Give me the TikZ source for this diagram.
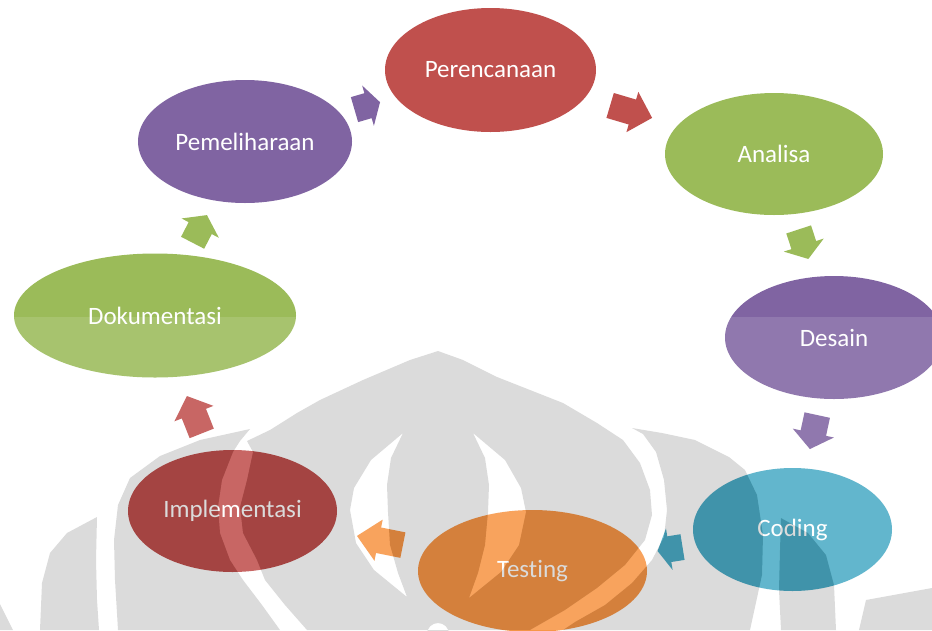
\documentclass[tikz,border=0pt]{standalone}
\usepackage{fontspec}
\setmainfont{Carlito}[Ligatures=NoCommon]
\usetikzlibrary{calc,shapes.geometric}

\definecolor{phRed}{HTML}{C0504D}
\definecolor{phPurple}{HTML}{8064A2}
\definecolor{phGreen}{HTML}{9BBB59}
\definecolor{phAqua}{HTML}{4BACC6}
\definecolor{phOrange}{HTML}{F79646}

\tikzset{
  phase/.style={ellipse, draw=none, inner sep=0pt, outer sep=0pt, text=white,
    font=\fontsize{25}{30}\selectfont},
  % pieces of the faint emblem behind the lower half
  makara/.style={insert path={
    % left outer leaf
    (97,517) -- (96,560) -- (97,600) -- (99,630) -- (40,630) -- (42,583) -- (50,553) -- (67,533) -- cycle
    % left leaf
    (250,429) -- (240,441) -- (233,452) -- (222,480) -- (218,507) -- (220,533) -- (230,560) -- (243,580)
      -- (262,605) -- (280,630) -- (118,630) -- (115,580) -- (114,540) -- (118,505) -- (130,478)
      -- (160,456) -- (200,440) -- cycle
    % central dome
    (438,351) -- (463,360) -- (497,377) -- (530,390) -- (563,403) -- (597,423) -- (623,440) -- (640,463)
      -- (650,490) -- (652,515) -- (645,540) -- (625,565) -- (597,588) -- (565,610) -- (530,630)
      -- (307,630) -- (285,605) -- (265,580) -- (257,560) -- (243,533) -- (240,507) -- (247,480)
      -- (253,452) -- (247,441) -- (270,430) -- (297,413) -- (320,400) -- (363,380) -- (410,360) -- cycle
    % openings inside the dome
    (403,433) -- (371,460) -- (354,488) -- (350,510) -- (356,543) -- (374,570) -- (407,597)
      -- (398,573) -- (390,545) -- (388,512) -- (387,485) -- (391,458) -- cycle
    (473,433) -- (505,460) -- (521,488) -- (526,512) -- (519,545) -- (501,572) -- (469,598)
      -- (478,573) -- (485,545) -- (488,512) -- (489,485) -- (485,458) -- cycle
    (438,634) circle[radius=11pt]
    % right leaf
    (632,428) -- (662,433) -- (695,440) -- (729,457) -- (745,470) -- (757,495) -- (763,535)
      -- (762,575) -- (750,630) -- (563,630) -- (575,622) -- (605,605) -- (632,583) -- (652,560)
      -- (664,537) -- (667,510) -- (664,480) -- (656,452) -- (643,434) -- cycle
    % right outer leaf
    (781,518) -- (808,533) -- (826,555) -- (834,585) -- (836,630) -- (781,630) -- (779,590) -- (780,550) -- cycle
    % corners
    (0,604) -- (13,630) -- (0,630) -- cycle
    (866,600) -- (932,588) -- (932,630) -- (859,630) -- cycle
  }}
}

% block arrow between two phases: from node #1 to node #2,
% starting and ending at fractions #3 and #4 of the centre line, colour #5
\newcommand{\cyclearrow}[5]{%
  \coordinate (ca-b) at ($(#1.center)!#3!(#2.center)$);
  \coordinate (ca-t) at ($(#1.center)!#4!(#2.center)$);
  \coordinate (ca-h) at ($(ca-b)!0.53!(ca-t)$);
  \fill[#5] ($(ca-b)!13pt!90:(ca-t)$) -- ($(ca-h)!13pt!90:(ca-t)$) -- ($(ca-h)!21pt!90:(ca-t)$)
    -- (ca-t) -- ($(ca-h)!21pt!-90:(ca-t)$) -- ($(ca-h)!13pt!-90:(ca-t)$)
    -- ($(ca-b)!13pt!-90:(ca-t)$) -- cycle;
}

\begin{document}
\begin{tikzpicture}[x=1pt, y=-1pt]
  \useasboundingbox (0,0) rectangle (932,630);
  \fill[white] (0,0) rectangle (932,630);

  % the eight phases
  \node[phase, fill=phRed,    minimum width=211pt, minimum height=124pt] (per) at (490.5,70)  {Perencanaan};
  \node[phase, fill=phGreen,  minimum width=218pt, minimum height=122pt] (ana) at (774,154)   {Analisa};
  \node[phase, fill=phPurple, minimum width=218pt, minimum height=123pt] (des) at (834,337.5) {Desain};
  \node[phase, fill=phAqua,   minimum width=199pt, minimum height=123pt] (cod) at (792.5,529.5) {Coding};
  \node[phase, fill=phOrange, minimum width=229pt, minimum height=122pt] (tes) at (532.5,571) {Testing};
  \node[phase, fill=phRed,    minimum width=209pt, minimum height=122pt] (imp) at (232.5,511) {Implementasi};
  \node[phase, fill=phGreen,  minimum width=282pt, minimum height=124pt] (dok) at (155,315.5) {Dokumentasi};
  \node[phase, fill=phPurple, minimum width=214pt, minimum height=123pt] (pem) at (245,141.5) {Pemeliharaan};

  % arrows around the cycle
  \cyclearrow{per}{ana}{0.422}{0.570}{phRed}
  \cyclearrow{ana}{des}{0.411}{0.572}{phGreen}
  \cyclearrow{des}{cod}{0.404}{0.581}{phPurple}
  \cyclearrow{cod}{tes}{0.423}{0.519}{phAqua}
  \cyclearrow{tes}{imp}{0.432}{0.585}{phOrange}
  \cyclearrow{imp}{dok}{0.397}{0.588}{phRed}
  \cyclearrow{dok}{pem}{0.418}{0.577}{phGreen}
  \cyclearrow{pem}{per}{0.446}{0.550}{phPurple}

  % translucent emblem over the lower part
  \begin{scope}
    \clip (0,0) rectangle (932,630);
    \fill[white, fill opacity=0.13, even odd rule] (0,317) rectangle (932,630) [makara];
    \fill[black, fill opacity=0.14, even odd rule] [makara];
  \end{scope}
\end{tikzpicture}
\end{document}
